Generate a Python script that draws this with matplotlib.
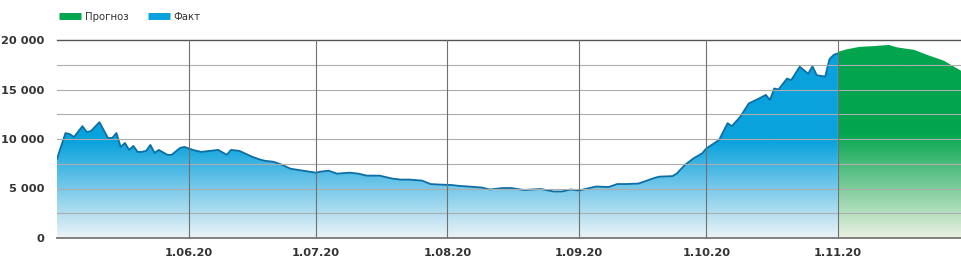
import matplotlib
matplotlib.use("Agg")
import matplotlib.pyplot as plt
import matplotlib.dates as mdates
import matplotlib.colors as mcolors
from matplotlib.lines import Line2D
from matplotlib.ticker import FuncFormatter, MultipleLocator
import numpy as np
import pandas as pd

# daily new cases (fact) and forecast
fact_dates = [
    "05-01", "05-03", "05-04", "05-05", "05-07", "05-08", "05-09", "05-11", "05-12", "05-13",
    "05-14", "05-15", "05-16", "05-17", "05-18", "05-19", "05-20", "05-21", "05-22", "05-23",
    "05-24", "05-25", "05-27", "05-28", "05-30", "05-31", "06-02", "06-04", "06-06", "06-08",
    "06-10", "06-11", "06-13", "06-14", "06-16", "06-18", "06-19", "06-21", "06-23", "06-25",
    "06-28", "07-01", "07-02", "07-04", "07-06", "07-09", "07-11", "07-13", "07-16", "07-19",
    "07-21", "07-23", "07-26", "07-28", "07-30", "08-02", "08-04", "08-06", "08-09", "08-11",
    "08-14", "08-16", "08-19", "08-21", "08-23", "08-26", "08-28", "08-30", "09-01", "09-03",
    "09-05", "09-08", "09-10", "09-12", "09-15", "09-17", "09-19", "09-20", "09-23", "09-24",
    "09-26", "09-28", "09-30", "10-01", "10-04", "10-06", "10-07", "10-09", "10-11", "10-13",
    "10-15", "10-16", "10-17", "10-18", "10-20", "10-21", "10-23", "10-25", "10-26", "10-27",
    "10-29", "10-30", "10-31", "11-01",
]
fact_values = [
    8000, 10600, 10500, 10200, 11300, 10700, 10800, 11700, 10900, 10100,
    10100, 10600, 9200, 9600, 8900, 9300, 8700, 8700, 8800, 9400,
    8600, 8900, 8400, 8400, 9100, 9200, 8900, 8700, 8800, 8900,
    8400, 8900, 8800, 8600, 8200, 7900, 7800, 7700, 7400, 7000,
    6800, 6600, 6700, 6800, 6500, 6600, 6500, 6300, 6300, 6000,
    5900, 5900, 5800, 5450, 5400, 5350, 5250, 5200, 5100, 4900,
    5050, 5050, 4850, 4900, 4950, 4700, 4700, 4900, 4800, 5000,
    5200, 5150, 5450, 5450, 5500, 5800, 6100, 6200, 6250, 6500,
    7400, 8050, 8550, 9050, 9900, 11600, 11300, 12250, 13600, 14000,
    14450, 13950, 15100, 15000, 16100, 15950, 17300, 16600, 17350, 16450,
    16300, 18050, 18500, 18650,
]
forecast_dates = ["11-01", "11-03", "11-06", "11-10", "11-13", "11-15",
                  "11-19", "11-22", "11-26", "11-29", "11-30"]
forecast_values = [18800, 19050, 19300, 19400, 19500, 19250,
                   19000, 18500, 17900, 17150, 16900]

legend_labels = ["Прогноз", "Факт"]
ymax = 20000

BLUE = "#0aa2dd"
BLUE_EDGE = "#0b6fa6"
GREEN = "#02a54e"
TEXT = "#333333"


def to_num(days):
    return mdates.date2num(pd.to_datetime(["2020-" + d for d in days]))


def gradient_area(ax, x, y, top, bottom, full_at):
    poly = ax.fill_between(x, y, 0, facecolor="none", lw=0)
    v = np.linspace(0, ymax, 400)
    a = np.clip(0.03 + v / full_at, 0, 1)
    c1 = np.array(mcolors.to_rgb(top))
    c0 = np.array(mcolors.to_rgb(bottom))
    rgb = c0[None, :] * (1 - a[:, None]) + c1[None, :] * a[:, None]
    im = ax.imshow(rgb[:, None, :], aspect="auto", origin="lower",
                   extent=[x[0], x[-1], 0, ymax], zorder=1, interpolation="bilinear")
    im.set_clip_path(poly.get_paths()[0], transform=ax.transData)


fig = plt.figure(figsize=(9.61, 2.63), dpi=100)
ax = fig.add_axes([57 / 961, 25 / 263, 904 / 961, 198 / 263])

xf = to_num(fact_dates)
xp = to_num(forecast_dates)

gradient_area(ax, xf, fact_values, BLUE, "#f4f6f8", 10000)
gradient_area(ax, xp, forecast_values, GREEN, "#f3f3e6", 11000)
ax.plot(xf, fact_values, color=BLUE_EDGE, lw=1.3, zorder=3)

ax.set_xlim(xf[0], xp[-1])
ax.set_ylim(0, ymax)

# grid on top of the areas
for yv in np.arange(2500, ymax, 2500):
    ax.axhline(yv, color="#adadad", lw=0.8, zorder=4)
ax.axhline(ymax, color="#555555", lw=1.0, zorder=4, clip_on=False)
ax.axhline(0, color="#808080", lw=1.4, zorder=4, clip_on=False)
for m in pd.date_range("2020-06-01", "2020-11-01", freq="MS"):
    ax.axvline(mdates.date2num(m), color="#707070", lw=0.8, zorder=4)

for s in ax.spines.values():
    s.set_visible(False)

ax.xaxis.set_major_locator(mdates.MonthLocator(bymonth=range(6, 12)))
ax.xaxis.set_major_formatter(FuncFormatter(
    lambda v, p: "{0}.{1:02d}.{2}".format(mdates.num2date(v).day, mdates.num2date(v).month,
                                          mdates.num2date(v).year % 100)))
ax.yaxis.set_major_locator(MultipleLocator(5000))
ax.yaxis.set_major_formatter(FuncFormatter(lambda v, p: "{0:,.0f}".format(v).replace(",", " ")))
ax.tick_params(axis="both", length=0, labelsize=8.2, colors=TEXT)
ax.tick_params(axis="y", pad=9)
ax.tick_params(axis="x", pad=7)
for lab in ax.get_xticklabels() + ax.get_yticklabels():
    lab.set_fontweight("bold")

handles = [Line2D([], [], color=GREEN, lw=5, solid_capstyle="butt"),
           Line2D([], [], color=BLUE, lw=5, solid_capstyle="butt")]
fig.legend(handles, legend_labels, loc="upper left", bbox_to_anchor=(50 / 961, 0.99),
           ncol=2, frameon=False, fontsize=7.3, handlelength=2.2, handletextpad=0.35,
           columnspacing=1.9, labelcolor=TEXT)

fig.savefig("out.png", dpi=100)
